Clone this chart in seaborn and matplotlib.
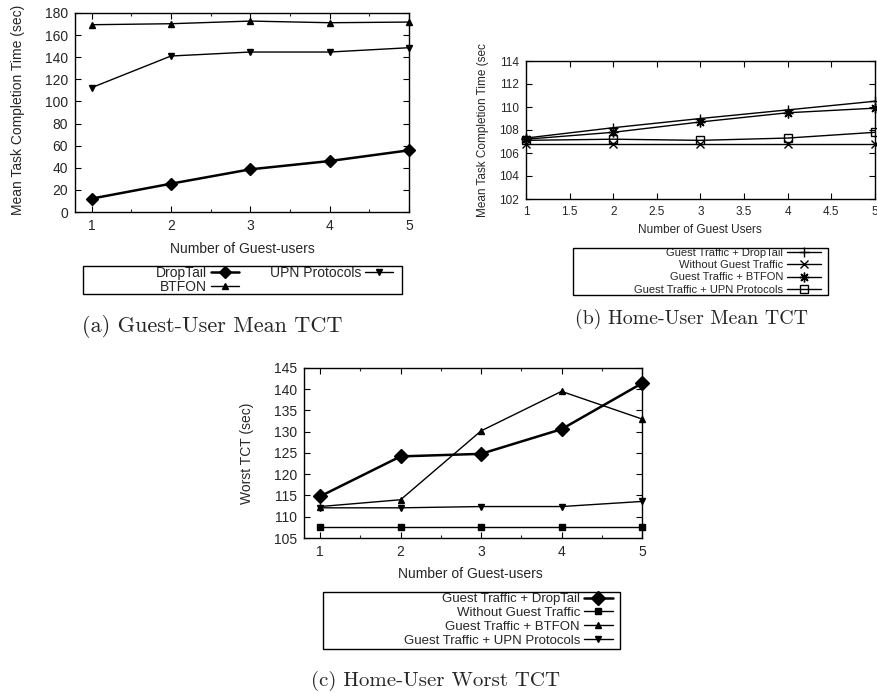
import matplotlib
matplotlib.use("Agg")
import matplotlib.pyplot as plt
import seaborn as sns
from matplotlib.patches import Rectangle

# --- data ---
users = [1, 2, 3, 4, 5]

# (a) guest-user mean TCT
guest_droptail = [12.1, 25.6, 38.6, 46.1, 55.8]
guest_btfon = [169.4, 170.3, 172.7, 171.2, 171.8]
guest_upn = [112.5, 141.1, 144.7, 144.7, 148.6]

# (b) home-user mean TCT
home_droptail = [107.3, 108.2, 109.0, 109.75, 110.5]
home_noguest = [106.8, 106.8, 106.8, 106.8, 106.8]
home_btfon = [107.2, 107.8, 108.7, 109.5, 109.9]
home_upn = [107.1, 107.2, 107.1, 107.3, 107.8]

# (c) home-user worst TCT
worst_droptail = [114.8, 124.2, 124.8, 130.6, 141.4]
worst_noguest = [107.5, 107.5, 107.5, 107.5, 107.5]
worst_btfon = [112.4, 114.0, 130.2, 139.5, 133.0]
worst_upn = [112.1, 112.1, 112.4, 112.4, 113.6]

sns.set_style("ticks")
plt.rcParams["font.family"] = ["Liberation Sans", "DejaVu Sans"]

W, H = 878, 693
fig = plt.figure(figsize=(W / 100, H / 100), dpi=100)


def fx(px):
    return px / W


def fy(py):
    return 1 - py / H


def add_axes(l, t, r, b):
    return fig.add_axes([fx(l), fy(b), fx(r) - fx(l), fy(t) - fy(b)])


def style_axes(ax, fs):
    ax.tick_params(direction="in", top=True, right=True, length=4, width=0.8,
                   labelsize=fs, pad=5, color="black")
    ax.tick_params(which="minor", direction="in", top=True, length=2.5, width=0.8)
    for s in ax.spines.values():
        s.set_visible(True)
        s.set_linewidth(1.0)
        s.set_color("black")


def draw(ax, y, label, marker, ms, lw=1.0, filled=True):
    sns.lineplot(x=users, y=y, ax=ax, color="black", linewidth=lw, marker=marker,
                 markersize=ms, markeredgecolor="black",
                 markerfacecolor="black" if filled else "none",
                 markeredgewidth=1.0, label=label, clip_on=False, zorder=3)


def legend_box(ax, anchor, fs, box, ncol=1, hl=2.0, cs=2.0, ls=0.0):
    leg = ax.legend(loc="upper right", bbox_to_anchor=(fx(anchor[0]), fy(anchor[1])),
                    bbox_transform=fig.transFigure, ncol=ncol, markerfirst=False,
                    frameon=False, fontsize=fs, handlelength=hl, handletextpad=0.3,
                    columnspacing=cs, labelspacing=ls, borderpad=0, borderaxespad=0)
    l, t, r, b = box
    fig.patches.append(Rectangle((fx(l), fy(b)), fx(r) - fx(l), fy(t) - fy(b),
                                 transform=fig.transFigure, fill=False,
                                 edgecolor="black", linewidth=1.0))
    return leg


def place_labels(ax, xl, yl):
    ax.xaxis.set_label_coords(fx(xl[0]), fy(xl[1]), transform=fig.transFigure)
    ax.xaxis.label.set_verticalalignment("center")
    ax.yaxis.set_label_coords(fx(yl[0]), fy(yl[1]), transform=fig.transFigure)
    ax.yaxis.label.set_verticalalignment("center")


# ---------- (a) ----------
ax1 = add_axes(75, 13, 409, 212)
draw(ax1, guest_droptail, "DropTail", "D", 6.5, lw=1.8)
draw(ax1, guest_btfon, "BTFON", "^", 4.5)
draw(ax1, guest_upn, "UPN Protocols", "v", 4.5)
ax1.set_xlim(0.79, 5)
ax1.set_ylim(0, 180)
ax1.set_xticks(users)
ax1.set_xticks([1.5, 2.5, 3.5, 4.5], minor=True)
ax1.set_yticks(range(0, 181, 20))
style_axes(ax1, 10)
ax1.set_xlabel("Number of Guest-users", fontsize=10)
ax1.set_ylabel("Mean Task Completion Time (sec)", fontsize=10)
place_labels(ax1, (242, 249), (18, 110))
legend_box(ax1, (393, 266), 10, (83, 266, 402, 294), ncol=2, hl=2.0, cs=2.2)

# ---------- (b) ----------
ax2 = add_axes(526, 61, 875, 199)
draw(ax2, home_droptail, "Guest Traffic + DropTail", "+", 7)
draw(ax2, home_noguest, "Without Guest Traffic", "x", 6)
draw(ax2, home_btfon, "Guest Traffic + BTFON", (8, 2, 0), 7)
draw(ax2, home_upn, "Guest Traffic + UPN Protocols", "s", 6, filled=False)
ax2.set_xlim(1, 5)
ax2.set_ylim(102, 114)
ax2.set_xticks([1, 1.5, 2, 2.5, 3, 3.5, 4, 4.5, 5])
ax2.set_xticklabels(["1", "1.5", "2", "2.5", "3", "3.5", "4", "4.5", "5"])
ax2.set_yticks(range(102, 115, 2))
style_axes(ax2, 8.5)
ax2.set_xlabel("Number of Guest Users", fontsize=8.5)
ax2.set_ylabel("Mean Task Completion Time (sec", fontsize=8.5)
place_labels(ax2, (700, 230), (483, 130))
legend_box(ax2, (821, 248), 8, (573, 248, 828, 295), hl=3.1, ls=0.2)

# ---------- (c) ----------
ax3 = add_axes(304, 368, 642, 538)
draw(ax3, worst_droptail, "Guest Traffic + DropTail", "D", 7.5, lw=1.8)
draw(ax3, worst_noguest, "Without Guest Traffic", "s", 5)
draw(ax3, worst_btfon, "Guest Traffic + BTFON", "^", 4)
draw(ax3, worst_upn, "Guest Traffic + UPN Protocols", "v", 4)
ax3.set_xlim(0.8, 5)
ax3.set_ylim(105, 145)
ax3.set_xticks(users)
ax3.set_xticks([1.5, 2.5, 3.5, 4.5], minor=True)
ax3.set_yticks(range(105, 146, 5))
style_axes(ax3, 10)
ax3.set_xlabel("Number of Guest-users", fontsize=10)
ax3.set_ylabel("Worst TCT (sec)", fontsize=10)
place_labels(ax3, (470, 574), (247, 453))
legend_box(ax3, (613, 593), 9.5, (323, 592, 620, 649), hl=2.2, ls=0.12)

# ---------- captions ----------
cap = dict(family=["cmr10", "DejaVu Serif"], ha="center", va="center")
fig.text(fx(212), fy(326), "(a) Guest-User Mean TCT", fontsize=16, **cap)
fig.text(fx(692), fy(319), "(b) Home-User Mean TCT", fontsize=14.3, **cap)
fig.text(fx(436), fy(681), "(c) Home-User Worst TCT", fontsize=15, **cap)

fig.savefig("out.png", dpi=100)
